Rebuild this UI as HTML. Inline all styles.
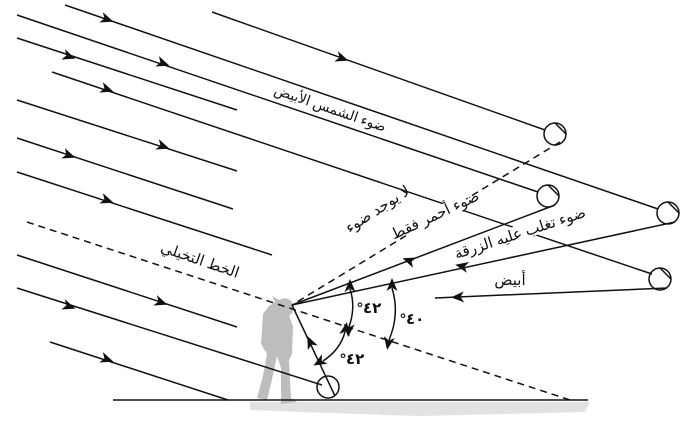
<!DOCTYPE html>
<html><head><meta charset="utf-8"><style>
html,body{margin:0;padding:0;background:#fff;width:690px;height:427px;overflow:hidden}
text{font-family:"Liberation Sans","DejaVu Sans",sans-serif;fill:#111}
</style></head><body>
<svg width="690" height="427" viewBox="0 0 690 427" xmlns="http://www.w3.org/2000/svg">
<defs>
<path id="h" d="M-2,-5.5 L11,0 L-2,5.5 L1.5,0Z" fill="#111"/>
</defs>
<path d="M250,402 L590,402 L585,412 L420,416 L300,412 L250,410 Z" fill="#e2e2e2"/>
<path d="M279,300 q8,-4 13,2 l1,10 l-4,4 l4,10 l-1,28 l-3,6 l2,38 l6,4 l-16,2 l0,-36 l-4,-12 l-6,28 l-4,16 l-10,-2 l6,-22 l4,-22 l-6,-10 l2,-30 l6,-8 l6,-4 l-3,-6 z" fill="#bdbdbd"/>
<g stroke="#111" stroke-width="1.5" fill="none">
<line x1="65" y1="5" x2="658" y2="209"/>
<line x1="212" y1="12" x2="545" y2="130"/>
<line x1="17" y1="15" x2="538" y2="192"/>
<line x1="17" y1="38" x2="237" y2="110"/>
<line x1="52" y1="72" x2="652" y2="274"/>
<line x1="17" y1="100" x2="237" y2="171"/>
<line x1="17" y1="138" x2="233" y2="209"/>
<line x1="17" y1="172" x2="272" y2="255"/>
<line x1="17" y1="255" x2="237" y2="327"/>
<line x1="17" y1="288" x2="322" y2="385"/>
<line x1="50" y1="342" x2="228" y2="400"/>
<circle cx="555" cy="134" r="11"/><line x1="555" y1="123" x2="566" y2="134"/>
<circle cx="548" cy="196" r="11"/><line x1="548" y1="185" x2="559" y2="196"/>
<circle cx="668" cy="213" r="11"/><line x1="668" y1="202" x2="679" y2="213"/>
<circle cx="660" cy="279" r="11"/><line x1="660" y1="268" x2="671" y2="279"/>
<circle cx="328" cy="387" r="11"/>
<line x1="560" y1="142" x2="292" y2="305" stroke-dasharray="7,5"/>
<line x1="555" y1="205" x2="292" y2="305"/>
<line x1="675" y1="222" x2="292" y2="305"/>
<line x1="667" y1="288" x2="435" y2="298"/>
<line x1="335" y1="396" x2="292" y2="305"/>
<line x1="27" y1="222" x2="570" y2="400" stroke-dasharray="7,5"/>
<line x1="113" y1="400" x2="588" y2="400"/>
<path d="M350,289 Q356,307 349,327"/>
<path d="M392,288 Q400,314 389,340"/>
<path d="M345,332 Q340,350 323,361"/>
</g>
<use href="#h" transform="translate(103,18) rotate(19)"/>
<use href="#h" transform="translate(338,57) rotate(19)"/>
<use href="#h" transform="translate(159,62) rotate(19)"/>
<use href="#h" transform="translate(65,55) rotate(19)"/>
<use href="#h" transform="translate(103,88) rotate(19)"/>
<use href="#h" transform="translate(159,145) rotate(19)"/>
<use href="#h" transform="translate(65,154) rotate(19)"/>
<use href="#h" transform="translate(103,199) rotate(19)"/>
<use href="#h" transform="translate(157,301) rotate(19)"/>
<use href="#h" transform="translate(65,305) rotate(19)"/>
<use href="#h" transform="translate(103,358) rotate(19)"/>
<use href="#h" transform="translate(413,262) rotate(200)"/>
<use href="#h" transform="translate(466,267) rotate(192)"/>
<use href="#h" transform="translate(462,297) rotate(178)"/>
<use href="#h" transform="translate(312,346) rotate(245)"/>
<use href="#h" transform="translate(350,290) rotate(-90)"/>
<use href="#h" transform="translate(349,326) rotate(95)"/>
<use href="#h" transform="translate(392,289) rotate(-90)"/>
<use href="#h" transform="translate(389,339) rotate(100)"/>
<use href="#h" transform="translate(345,333) rotate(-80)"/>
<use href="#h" transform="translate(323,360) rotate(150)"/>
<g font-size="15">
<text x="330" y="113" font-size="14" text-anchor="middle" transform="rotate(19 330 109)" direction="rtl">ضوء الشمس الأبيض</text>
<text x="200" y="265" text-anchor="middle" transform="rotate(19 200 260)" direction="rtl">الخط التخيلي</text>
<rect x="350" y="205" width="58" height="14" fill="#fff" transform="rotate(-33 378 210)"/>
<text x="378" y="214" text-anchor="middle" transform="rotate(-33 378 210)" direction="rtl">لا يوجد ضوء</text>
<rect x="400" y="208" width="70" height="15" fill="#fff" transform="rotate(-25 435 215)"/>
<text x="435" y="220" text-anchor="middle" transform="rotate(-25 435 215)" direction="rtl">ضوء أحمر فقط</text>
<rect x="463" y="225" width="115" height="15" fill="#fff" transform="rotate(-18 520 233)"/>
<text x="520" y="238" text-anchor="middle" transform="rotate(-18 520 233)" direction="rtl">ضوء تغلب عليه الزرقة</text>
<text x="510" y="285" text-anchor="middle" direction="rtl">أبيض</text>
<text x="357" y="313" font-size="15" font-weight="bold">°٤٢</text>
<text x="400" y="324" font-size="15" font-weight="bold">°٤٠</text>
<text x="340" y="364" font-size="15" font-weight="bold">°٤٢</text>
</g>
</svg>
</body></html>
